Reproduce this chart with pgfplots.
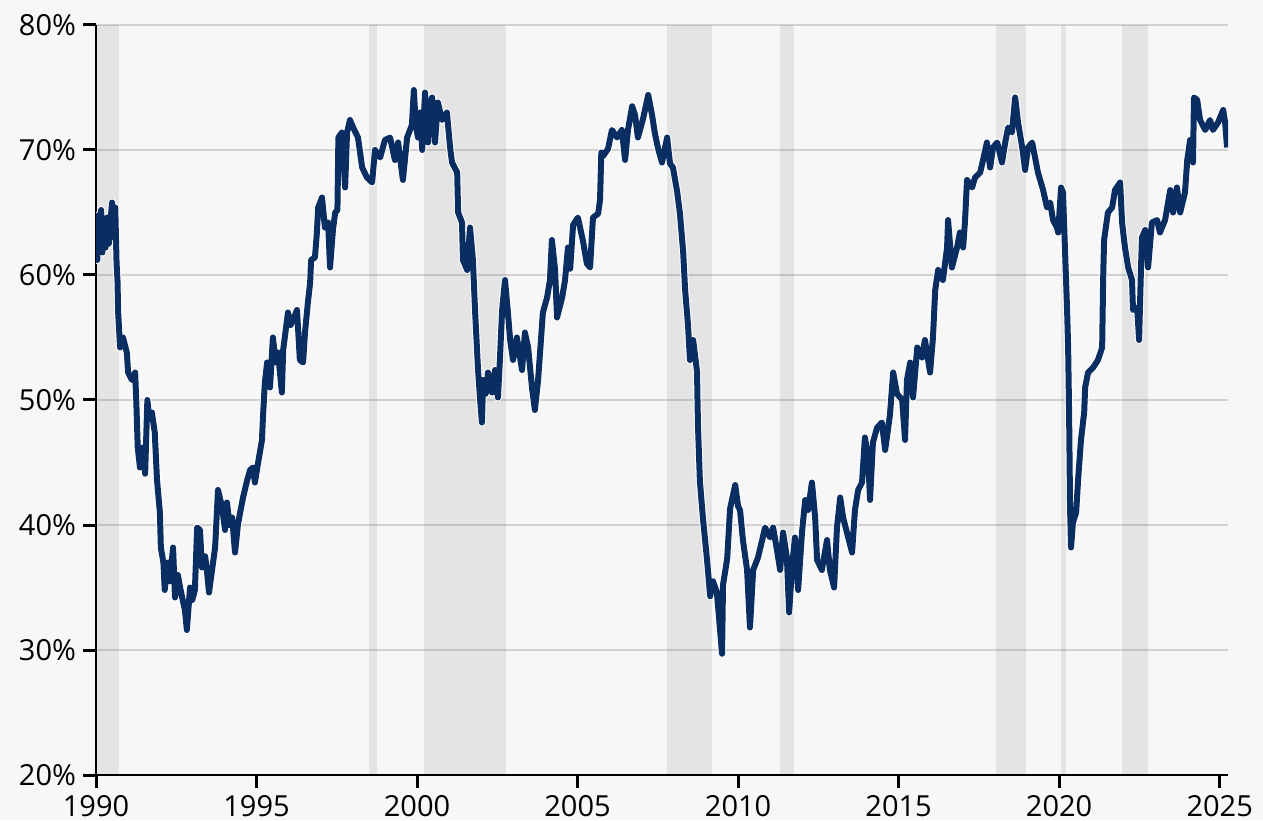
\documentclass[border=0pt]{standalone}
\usepackage{fontspec}
\setmainfont{Open Sans}
\usepackage{pgfplots}
\usepackage{pgfplotstable}
\pgfplotsset{compat=1.18}

\definecolor{bg}{HTML}{F7F7F7}
\definecolor{navy}{HTML}{0A2D62}
\definecolor{gridc}{HTML}{D2D2D2}

% year, share (%)
\pgfplotstableread{
year value
1990.00 63.0
1990.04 61.2
1990.08 64.8
1990.12 62.0
1990.16 65.2
1990.20 61.8
1990.25 64.0
1990.30 62.2
1990.35 64.6
1990.40 62.5
1990.45 64.2
1990.50 65.8
1990.55 63.0
1990.60 65.4
1990.64 61.0
1990.67 59.5
1990.69 57.0
1990.75 54.2
1990.84 55.0
1990.96 53.8
1991.00 52.2
1991.12 51.6
1991.22 52.2
1991.26 49.5
1991.30 46.2
1991.37 44.6
1991.46 46.2
1991.53 44.1
1991.60 50.0
1991.66 48.5
1991.74 49.0
1991.83 47.4
1991.90 43.6
1991.99 41.0
1992.02 38.2
1992.10 37.0
1992.14 34.8
1992.24 37.0
1992.30 35.5
1992.40 38.2
1992.46 34.2
1992.55 36.0
1992.62 35.0
1992.70 34.0
1992.77 33.2
1992.83 31.6
1992.93 35.0
1993.00 34.0
1993.08 34.8
1993.15 39.8
1993.24 39.6
1993.30 36.6
1993.40 37.5
1993.46 36.2
1993.52 34.6
1993.62 36.5
1993.71 38.2
1993.80 42.8
1993.93 41.4
1994.02 39.6
1994.08 41.8
1994.16 40.0
1994.24 40.6
1994.33 37.8
1994.42 40.0
1994.49 41.0
1994.58 42.2
1994.70 43.5
1994.80 44.4
1994.89 44.6
1994.95 43.4
1995.05 45.0
1995.17 46.8
1995.20 48.6
1995.26 51.4
1995.33 53.0
1995.42 51.0
1995.51 55.0
1995.60 53.0
1995.67 53.8
1995.79 50.6
1995.83 54.0
1995.98 57.0
1996.06 56.0
1996.14 56.4
1996.26 57.2
1996.35 53.2
1996.45 53.0
1996.51 55.4
1996.60 57.8
1996.67 59.4
1996.70 61.2
1996.82 61.4
1996.88 63.4
1996.92 65.4
1997.04 66.2
1997.13 63.8
1997.23 64.2
1997.29 60.6
1997.38 63.6
1997.45 65.0
1997.52 65.2
1997.55 71.0
1997.66 71.4
1997.76 67.0
1997.82 71.4
1997.91 72.4
1998.01 71.8
1998.16 71.0
1998.29 68.6
1998.44 67.8
1998.60 67.4
1998.69 70.0
1998.85 69.4
1999.00 70.8
1999.16 71.0
1999.31 69.2
1999.41 70.6
1999.56 67.6
1999.69 71.0
1999.78 71.6
1999.84 72.0
1999.90 74.8
1999.96 72.0
2000.03 71.0
2000.10 73.0
2000.16 70.0
2000.25 74.6
2000.34 70.6
2000.40 73.5
2000.47 74.2
2000.56 70.6
2000.65 73.8
2000.78 72.4
2000.93 73.0
2001.03 70.2
2001.09 69.0
2001.25 68.2
2001.28 65.0
2001.40 64.2
2001.43 61.2
2001.56 60.4
2001.65 63.8
2001.74 61.2
2001.81 57.0
2001.90 52.4
2001.96 50.2
2002.02 48.2
2002.06 51.6
2002.14 50.5
2002.21 52.2
2002.34 50.6
2002.43 52.4
2002.52 50.2
2002.58 53.2
2002.65 57.2
2002.74 59.6
2002.83 57.0
2002.90 54.8
2002.99 53.2
2003.11 55.0
2003.27 52.4
2003.36 55.4
2003.46 54.2
2003.58 51.0
2003.67 49.2
2003.77 51.6
2003.92 57.0
2004.05 58.2
2004.14 59.6
2004.20 62.8
2004.30 60.4
2004.36 56.6
2004.52 58.2
2004.61 59.6
2004.70 62.2
2004.77 60.5
2004.86 64.0
2005.01 64.6
2005.17 62.7
2005.29 60.9
2005.39 60.6
2005.48 64.6
2005.64 64.9
2005.70 66.0
2005.74 69.8
2005.79 69.5
2005.95 70.1
2006.07 71.6
2006.23 71.0
2006.38 71.6
2006.48 69.2
2006.57 71.6
2006.70 73.5
2006.79 72.8
2006.88 71.0
2007.04 72.5
2007.20 74.4
2007.32 72.8
2007.41 71.3
2007.51 70.1
2007.63 69.0
2007.79 71.0
2007.88 68.9
2007.97 68.6
2008.10 66.7
2008.19 64.9
2008.29 61.8
2008.35 58.8
2008.44 56.0
2008.50 53.2
2008.60 54.8
2008.72 52.3
2008.75 48.0
2008.81 43.5
2008.91 40.4
2009.03 37.3
2009.13 34.3
2009.22 35.5
2009.34 34.6
2009.50 29.7
2009.53 35.2
2009.66 37.3
2009.75 41.3
2009.91 43.2
2010.00 41.5
2010.06 41.2
2010.15 38.8
2010.28 36.4
2010.37 31.8
2010.47 36.4
2010.62 37.4
2010.75 38.8
2010.84 39.8
2011.00 39.0
2011.09 39.8
2011.21 38.0
2011.31 36.4
2011.40 39.4
2011.52 37.4
2011.59 33.0
2011.68 36.6
2011.77 39.0
2011.87 34.8
2011.99 39.4
2012.09 42.0
2012.18 41.2
2012.30 43.4
2012.40 40.6
2012.46 37.2
2012.61 36.4
2012.77 38.8
2012.86 36.4
2012.99 35.0
2013.08 39.8
2013.18 42.2
2013.27 40.6
2013.39 39.4
2013.55 37.8
2013.64 41.2
2013.74 42.8
2013.86 43.4
2013.95 47.0
2014.05 45.4
2014.11 42.0
2014.20 46.6
2014.33 47.8
2014.48 48.2
2014.58 46.0
2014.73 48.8
2014.83 52.2
2014.95 50.5
2015.11 50.0
2015.20 46.8
2015.26 51.6
2015.36 53.0
2015.45 50.2
2015.58 54.2
2015.73 53.4
2015.82 54.8
2015.98 52.2
2016.07 55.0
2016.14 58.8
2016.23 60.4
2016.38 59.6
2016.51 62.2
2016.54 64.4
2016.66 60.6
2016.82 62.2
2016.91 63.4
2017.01 62.2
2017.07 64.4
2017.13 67.6
2017.29 67.0
2017.38 67.8
2017.54 68.2
2017.63 69.2
2017.75 70.6
2017.85 68.6
2017.94 70.2
2018.07 70.6
2018.22 69.0
2018.32 70.6
2018.41 71.8
2018.53 71.4
2018.63 74.2
2018.72 72.2
2018.85 70.2
2018.94 68.4
2019.03 70.2
2019.16 70.6
2019.25 69.4
2019.34 68.2
2019.50 66.8
2019.62 65.4
2019.72 65.8
2019.81 64.4
2019.93 63.8
2019.97 63.4
2020.06 67.0
2020.12 66.6
2020.18 62.2
2020.25 57.0
2020.28 54.2
2020.31 49.0
2020.34 41.4
2020.37 38.2
2020.43 40.2
2020.53 41.0
2020.59 43.6
2020.68 46.8
2020.78 49.0
2020.81 51.0
2020.90 52.2
2021.06 52.6
2021.21 53.2
2021.34 54.2
2021.37 59.6
2021.40 62.8
2021.52 65.0
2021.65 65.4
2021.74 66.8
2021.90 67.4
2021.96 64.2
2022.05 62.2
2022.15 60.6
2022.27 59.6
2022.30 57.2
2022.43 57.4
2022.49 54.8
2022.55 60.6
2022.58 63.0
2022.68 63.6
2022.77 60.6
2022.89 64.2
2023.05 64.4
2023.14 63.4
2023.30 64.4
2023.46 66.8
2023.55 65.0
2023.67 67.0
2023.77 65.0
2023.92 66.6
2023.99 69.2
2024.08 70.8
2024.17 69.0
2024.20 74.2
2024.30 74.0
2024.39 72.4
2024.55 71.6
2024.70 72.4
2024.79 71.6
2024.95 72.2
2025.11 73.2
2025.17 72.2
2025.23 70.2
}\share

\begin{document}
\begin{tikzpicture}
\useasboundingbox (0,0) rectangle (631.5pt,410pt);
\fill[bg] (0,0) rectangle (631.5pt,410pt);
\begin{axis}[
    at={(48pt,22.5pt)}, anchor=south west,
    width=566pt, height=375pt, scale only axis,
    xmin=1990, xmax=2025.26,
    ymin=20, ymax=80,
    axis x line*=bottom, axis y line*=left,
    axis line style={line width=1pt, black},
    xtick={1990,1995,2000,2005,2010,2015,2020,2025},
    xticklabels={1990,1995,2000,2005,2010,2015,2020,2025},
    ytick={20,30,40,50,60,70,80},
    yticklabels={20\%,30\%,40\%,50\%,60\%,70\%,80\%},
    tick align=outside,
    major tick length=6.5pt,
    tick style={line width=1.5pt, black},
    ymajorgrids,
    grid style={gridc, line width=0.75pt},
    ticklabel style={font=\fontsize{14.5}{16}\selectfont},
]
% shaded periods
\addplot[draw=none, fill=black, fill opacity=0.075, forget plot] coordinates {(1990,20) (1990,80) (1990.72,80) (1990.72,20)} -- cycle;
\addplot[draw=none, fill=black, fill opacity=0.075, forget plot] coordinates {(1998.50,20) (1998.50,80) (1998.75,80) (1998.75,20)} -- cycle;
\addplot[draw=none, fill=black, fill opacity=0.075, forget plot] coordinates {(2000.22,20) (2000.22,80) (2002.77,80) (2002.77,20)} -- cycle;
\addplot[draw=none, fill=black, fill opacity=0.075, forget plot] coordinates {(2007.79,20) (2007.79,80) (2009.19,80) (2009.19,20)} -- cycle;
\addplot[draw=none, fill=black, fill opacity=0.075, forget plot] coordinates {(2011.31,20) (2011.31,80) (2011.74,80) (2011.74,20)} -- cycle;
\addplot[draw=none, fill=black, fill opacity=0.075, forget plot] coordinates {(2018.04,20) (2018.04,80) (2018.97,80) (2018.97,20)} -- cycle;
\addplot[draw=none, fill=black, fill opacity=0.075, forget plot] coordinates {(2020.06,20) (2020.06,80) (2020.22,80) (2020.22,20)} -- cycle;
\addplot[draw=none, fill=black, fill opacity=0.075, forget plot] coordinates {(2021.96,20) (2021.96,80) (2022.77,80) (2022.77,20)} -- cycle;
% series, with a white edge under it
\addplot[white, line width=4pt, line join=round, mark=none] table[x=year, y=value] {\share};
\addplot[navy, line width=3pt, line join=round, mark=none] table[x=year, y=value] {\share};
\end{axis}
\end{tikzpicture}
\end{document}
